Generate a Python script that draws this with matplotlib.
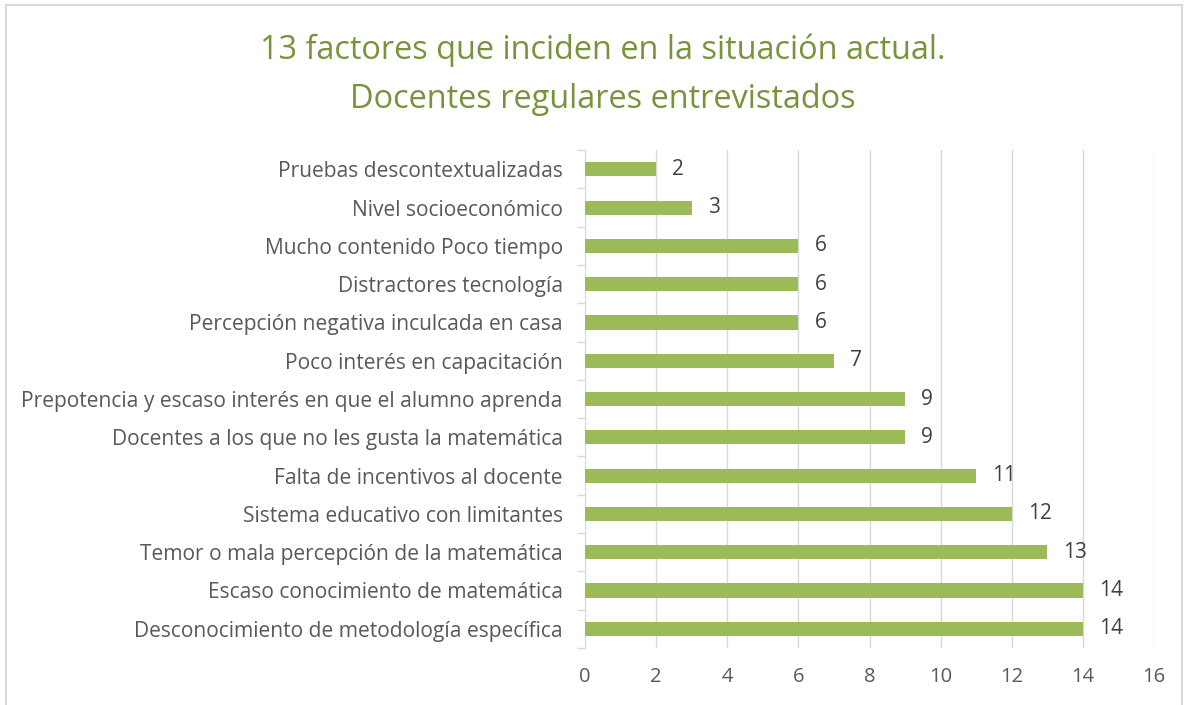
import matplotlib.pyplot as plt
from matplotlib.patches import Rectangle

categories = [
    "Desconocimiento de metodología específica",
    "Escaso conocimiento de matemática",
    "Temor o mala percepción de la matemática",
    "Sistema educativo con limitantes",
    "Falta de incentivos al docente",
    "Docentes a los que no les gusta la matemática",
    "Prepotencia y escaso interés en que el alumno aprenda",
    "Poco interés en capacitación",
    "Percepción negativa inculcada en casa",
    "Distractores tecnología",
    "Mucho contenido Poco tiempo",
    "Nivel socioeconómico",
    "Pruebas descontextualizadas",
]
values = [14, 14, 13, 12, 11, 9, 9, 7, 6, 6, 6, 3, 2]
xticks = [0, 2, 4, 6, 8, 10, 12, 14, 16]

title = "13 factores que inciden en la situación actual.\nDocentes regulares entrevistados"

plt.rcParams["font.family"] = ["Open Sans", "DejaVu Sans"]
text_color = "#595959"
bar_color = "#9BBB59"
grid_color = "#D9D9D9"

fig = plt.figure(figsize=(11.86, 7.05), dpi=100)
ax = fig.add_axes([0.4933, 0.081, 0.4798, 0.706])

y = list(range(len(categories)))
ax.barh(y, values, height=0.37, color=bar_color, zorder=3)
for yi, v in zip(y, values):
    ax.text(v + 0.45, yi, str(v), va="center", ha="left", fontsize=15, color="#404040")

ax.set_xlim(0, 16)
ax.set_ylim(-0.5, len(categories) - 0.5)
ax.set_xticks(xticks)
ax.set_xticklabels([str(t) for t in xticks], fontsize=14.5, color=text_color)
ax.set_yticks(y)
ax.set_yticklabels(categories, fontsize=15.1, color=text_color)
ax.tick_params(axis="x", length=0, pad=14)
ax.tick_params(axis="y", length=0, pad=16)

# category separator ticks on the left axis
ax.set_yticks([i - 0.5 for i in range(len(categories) + 1)], minor=True)
ax.tick_params(axis="y", which="minor", length=6, color=grid_color, width=1)

ax.grid(axis="x", color=grid_color, linewidth=1, zorder=0)
for s in ["top", "right", "bottom"]:
    ax.spines[s].set_visible(False)
ax.spines["left"].set_color(grid_color)

fig.text(0.508, 0.894, title, ha="center", va="center", fontsize=23.4,
         color="#77933C", linespacing=1.62)

# chart border
fig.patches.append(Rectangle((6 / 1186, -0.05), 1 - 10 / 1186, 1.05 - 5 / 705,
                             transform=fig.transFigure, fill=False,
                             edgecolor="#D9D9D9", linewidth=1.5))

fig.savefig("out.png", dpi=100)
